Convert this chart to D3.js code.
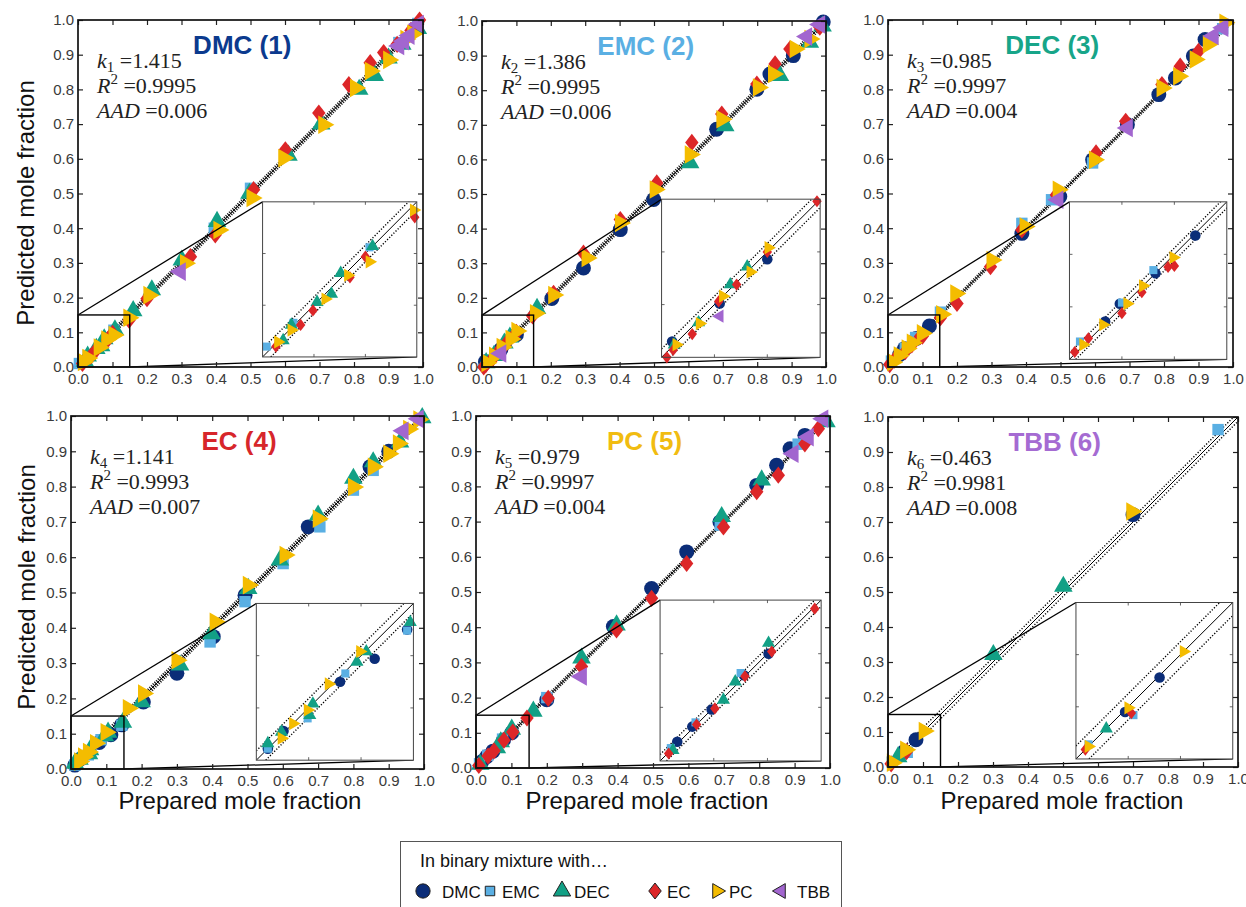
<!DOCTYPE html>
<html><head><meta charset="utf-8">
<script src="https://cdn.jsdelivr.net/npm/d3@7"></script>
<style>body{margin:0;background:#fff} svg{display:block}</style>
</head><body><svg id="c" width="1246" height="907"></svg>
<script>
// ---------------- DATA ----------------
const partners = ["DMC","EMC","DEC","EC","PC","TBB"];
const partnerColors = ["#0b2d78","#5aafe3","#12a085","#dc2628","#f4bc00","#a266cf"];
const panelTitles = ["DMC (1)","EMC (2)","DEC (3)","EC (4)","PC (5)","TBB (6)"];
const titleColors = ["#0b3a8e","#5aafe3","#17a589","#d7262b","#f1bc11","#a56bd2"];
const kValues = ["1.415","1.386","0.985","1.141","0.979","0.463"];
const r2Values = ["0.9995","0.9995","0.9997","0.9993","0.9997","0.9981"];
const aadValues = ["0.006","0.006","0.004","0.007","0.004","0.008"];
const bandWidths = [0.008,0.008,0.006,0.009,0.006,0.0125];
const tickValues = [0,0.1,0.2,0.3,0.4,0.5,0.6,0.7,0.8,0.9,1.0];
const tickLabels = ["0.0","0.1","0.2","0.3","0.4","0.5","0.6","0.7","0.8","0.9","1.0"];
const insetDomain = [0,0.15];

// [prepared, predicted] pairs, panel 1: DMC in binary mixture with ...
const p1_EMC = [[0.004,0.010],[0.03,0.033],[0.104,0.106],[0.395,0.40],[0.5,0.515],[0.93,0.935],[0.985,0.99]];
const p1_DEC = [[0.02,0.016],[0.028,0.031],[0.053,0.053],[0.067,0.061],[0.076,0.081],[0.107,0.107],[0.16,0.162],[0.214,0.222],[0.301,0.308],[0.403,0.419],[0.497,0.50],[0.61,0.61],[0.705,0.70],[0.815,0.80],[0.86,0.84],[0.9,0.89],[0.94,0.93],[0.985,0.975]];
const p1_EC  = [[0.013,0.010],[0.037,0.031],[0.049,0.045],[0.085,0.077],[0.1,0.097],[0.148,0.135],[0.2,0.197],[0.326,0.318],[0.398,0.381],[0.509,0.511],[0.601,0.626],[0.698,0.732],[0.785,0.814],[0.847,0.877],[0.886,0.906],[0.925,0.93],[0.965,0.97],[0.99,1.0]];
const p1_PC  = [[0.015,0.0145],[0.028,0.026],[0.061,0.056],[0.083,0.079],[0.104,0.092],[0.147,0.142],[0.205,0.207],[0.311,0.299],[0.408,0.395],[0.504,0.487],[0.596,0.602],[0.712,0.698],[0.804,0.804],[0.847,0.853],[0.9,0.885],[0.95,0.945],[0.97,0.96]];
const p1_TBB = [[0.297,0.275],[0.93,0.925],[0.944,0.939],[0.96,0.955],[0.987,0.988]];

// panel 2: EMC
const p2_DMC = [[0.01,0.015],[0.055,0.051],[0.1,0.093],[0.203,0.198],[0.295,0.286],[0.402,0.397],[0.499,0.484],[0.682,0.687],[0.799,0.803],[0.837,0.847],[0.905,0.9],[0.992,0.997]];
const p2_DEC = [[0.012,0.012],[0.035,0.033],[0.065,0.069],[0.081,0.086],[0.16,0.169],[0.605,0.59],[0.707,0.697],[0.866,0.842],[0.953,0.938],[0.99,0.985]];
const p2_EC  = [[0.005,0.0],[0.011,0.007],[0.029,0.022],[0.054,0.053],[0.071,0.069],[0.1,0.1],[0.147,0.148],[0.208,0.213],[0.295,0.329],[0.402,0.426],[0.508,0.532],[0.61,0.649],[0.697,0.731],[0.799,0.818],[0.852,0.876],[0.895,0.919],[0.982,0.982]];
const p2_PC  = [[0.014,0.012],[0.036,0.032],[0.058,0.058],[0.084,0.081],[0.101,0.104],[0.155,0.155],[0.208,0.208],[0.305,0.315],[0.402,0.416],[0.503,0.513],[0.605,0.614],[0.697,0.716],[0.803,0.808],[0.847,0.847],[0.91,0.919],[0.953,0.948]];
const p2_TBB = [[0.055,0.039],[0.944,0.955],[0.982,0.99]];

// panel 3: DEC
const p3_DMC = [[0.034,0.036],[0.048,0.053],[0.082,0.082],[0.12,0.118],[0.388,0.385],[0.498,0.491],[0.593,0.597],[0.694,0.698],[0.785,0.785],[0.833,0.833],[0.885,0.896],[0.919,0.944]];
const p3_EMC = [[0.01,0.017],[0.05,0.054],[0.08,0.085],[0.152,0.158],[0.388,0.414],[0.474,0.482],[0.593,0.588],[0.97,0.975]];
const p3_EC  = [[0.005,0.007],[0.018,0.02],[0.05,0.044],[0.069,0.064],[0.094,0.088],[0.1,0.089],[0.152,0.142],[0.2,0.183],[0.297,0.289],[0.388,0.395],[0.488,0.496],[0.603,0.617],[0.689,0.708],[0.794,0.814],[0.847,0.867],[0.9,0.91]];
const p3_PC  = [[0.013,0.014],[0.032,0.033],[0.055,0.053],[0.07,0.07],[0.099,0.097],[0.155,0.152],[0.196,0.212],[0.301,0.308],[0.397,0.405],[0.493,0.511],[0.598,0.597],[0.794,0.804],[0.842,0.838],[0.89,0.886],[0.928,0.93],[0.976,0.992]];
const p3_TBB = [[0.493,0.482],[0.694,0.689],[0.943,0.954],[0.971,0.978]];

// panel 4: EC
const p4_DMC = [[0.011,0.011],[0.026,0.028],[0.08,0.075],[0.113,0.097],[0.144,0.125],[0.205,0.19],[0.3,0.271],[0.403,0.375],[0.493,0.492],[0.672,0.686],[0.847,0.856],[0.9,0.9]];
const p4_EMC = [[0.011,0.011],[0.049,0.04],[0.085,0.083],[0.144,0.124],[0.394,0.36],[0.493,0.474],[0.601,0.582],[0.705,0.686],[0.8,0.79],[0.856,0.846]];
const p4_DEC = [[0.011,0.016],[0.024,0.027],[0.051,0.043],[0.054,0.054],[0.096,0.094],[0.105,0.104],[0.147,0.132],[0.2,0.19],[0.309,0.294],[0.398,0.383],[0.502,0.511],[0.592,0.592],[0.7,0.719],[0.8,0.823],[0.856,0.87],[0.932,0.926],[0.995,0.995]];
const p4_PC  = [[0.024,0.021],[0.035,0.035],[0.049,0.048],[0.069,0.073],[0.099,0.104],[0.162,0.172],[0.205,0.214],[0.3,0.308],[0.408,0.417],[0.502,0.521],[0.606,0.606],[0.7,0.709],[0.8,0.799],[0.856,0.856],[0.9,0.893],[0.927,0.922],[0.956,0.963],[0.985,0.99]];
const p4_TBB = [[0.941,0.958],[0.984,0.992]];

// panel 5: PC
const p5_DMC = [[0.016,0.018],[0.03,0.032],[0.048,0.048],[0.078,0.08],[0.101,0.1],[0.2,0.194],[0.388,0.402],[0.496,0.51],[0.595,0.614],[0.689,0.699],[0.793,0.803],[0.849,0.86],[0.887,0.907],[0.929,0.945]];
const p5_EMC = [[0.01,0.012],[0.033,0.036],[0.075,0.082],[0.2,0.2],[0.69,0.69],[0.91,0.92]];
const p5_DEC = [[0.012,0.01],[0.059,0.057],[0.07,0.074],[0.101,0.11],[0.162,0.161],[0.298,0.312],[0.397,0.406],[0.694,0.714],[0.807,0.818],[0.99,0.983]];
const p5_EC  = [[0.008,0.007],[0.034,0.034],[0.051,0.049],[0.079,0.079],[0.104,0.102],[0.144,0.142],[0.204,0.198],[0.298,0.288],[0.397,0.392],[0.496,0.482],[0.595,0.581],[0.699,0.685],[0.793,0.785],[0.854,0.832],[0.929,0.921],[0.967,0.964]];
const p5_TBB = [[0.298,0.26],[0.896,0.893],[0.939,0.94],[0.98,0.992]];

// panel 6: TBB
const p6_DMC = [[0.047,0.045],[0.08,0.078],[0.7,0.721]];
const p6_EMC = [[0.012,0.014],[0.055,0.042],[0.943,0.964]];
const p6_DEC = [[0.029,0.029],[0.301,0.321],[0.501,0.516]];
const p6_EC  = [[0.009,0.009],[0.053,0.044]];
const p6_PC  = [[0.012,0.012],[0.05,0.049],[0.103,0.103],[0.696,0.73]];

// table built from the arrays above (index = partner)
const panelSeries = [
  [null,   p1_EMC, p1_DEC, p1_EC, p1_PC, p1_TBB],
  [p2_DMC, null,   p2_DEC, p2_EC, p2_PC, p2_TBB],
  [p3_DMC, p3_EMC, null,   p3_EC, p3_PC, p3_TBB],
  [p4_DMC, p4_EMC, p4_DEC, null,  p4_PC, p4_TBB],
  [p5_DMC, p5_EMC, p5_DEC, p5_EC, null,  p5_TBB],
  [p6_DMC, p6_EMC, p6_DEC, p6_EC, p6_PC, null]
];

// ---------------- LAYOUT ----------------
const layout = [
  {x0:78,  x1:423,  y0:367, y1:20,  inset:[0.535,0.982,0.029,0.476], hatch:true},
  {x0:482, x1:826,  y0:367, y1:21,  inset:[0.522,0.983,0.028,0.485], hatch:true},
  {x0:888, x1:1233, y0:367, y1:20,  inset:[0.526,0.982,0.022,0.476], hatch:true},
  {x0:71,  x1:424,  y0:769, y1:416, inset:[0.525,0.97,0.025,0.469], hatch:true},
  {x0:476, x1:830,  y0:768, y1:416, inset:[0.52,0.975,0.02,0.477], hatch:true},
  {x0:888, x1:1238, y0:767, y1:417, inset:[0.537,0.985,0.023,0.47], hatch:false}
];
const symDiamond = {
  draw(ctx, size) {
    const h = Math.sqrt(size / 1.56), w = 0.78 * h;
    ctx.moveTo(0, -h); ctx.lineTo(w, 0); ctx.lineTo(0, h); ctx.lineTo(-w, 0); ctx.closePath();
  }
};
const symTypes = [d3.symbolCircle, d3.symbolSquare, d3.symbolTriangle, symDiamond, d3.symbolTriangle, d3.symbolTriangle];
const symRot = [0,0,0,0,90,-90];
const symSize = [175,130,150,115,150,150];
const legSize = [160,90,130,100,95,95];

const svg = d3.select("#c");
const defs = svg.append("defs");
const sansFont = "'Liberation Sans', Arial, Helvetica, sans-serif";
const serifFont = "'Liberation Serif', 'Times New Roman', serif";

function drawSymbol(g, j, cx, cy, size, stroke) {
  g.append("path")
    .attr("d", d3.symbol().type(symTypes[j]).size(size)())
    .attr("transform", `translate(${cx},${cy}) rotate(${symRot[j]})`)
    .attr("fill", partnerColors[j])
    .attr("stroke", stroke || "none")
    .attr("stroke-width", stroke ? 1 : 0);
}

function diagLines(g, xs, ys, band, hatch) {
  g.append("line")
    .attr("x1", xs(0)).attr("y1", ys(0)).attr("x2", xs(1)).attr("y2", ys(1))
    .attr("stroke", "#000").attr("stroke-width", 1);
  if (hatch) {
    const perp = band * (xs(1) - xs(0)) / Math.SQRT2;
    g.append("line")
      .attr("x1", xs(0)).attr("y1", ys(0)).attr("x2", xs(1)).attr("y2", ys(1))
      .attr("stroke", "#111").attr("stroke-width", 2 * perp + 1.2)
      .attr("stroke-dasharray", "1.1,1.3");
  } else {
    [[[0,band],[1-band,1]], [[band,0],[1,1-band]]].forEach(p => {
      g.append("line")
        .attr("x1", xs(p[0][0])).attr("y1", ys(p[0][1]))
        .attr("x2", xs(p[1][0])).attr("y2", ys(p[1][1]))
        .attr("stroke", "#000").attr("stroke-width", 1.4)
        .attr("stroke-dasharray", "1.2,1.8");
    });
  }
}

layout.forEach((L, i) => {
  const xs = d3.scaleLinear().domain([0,1]).range([L.x0, L.x1]);
  const ys = d3.scaleLinear().domain([0,1]).range([L.y0, L.y1]);
  const g = svg.append("g");
  const band = bandWidths[i];

  // main diagonal
  diagLines(g, xs, ys, band, L.hatch);

  // markers
  panelSeries[i].forEach((arr, j) => {
    if (!arr) return;
    arr.forEach(d => drawSymbol(g, j, xs(d[0]), ys(d[1]), symSize[j]));
  });

  // zoom box and connectors
  const ix0 = xs(L.inset[0]), ix1 = xs(L.inset[1]);
  const iy0 = ys(L.inset[2]), iy1 = ys(L.inset[3]);
  g.append("rect").attr("x", xs(0)).attr("y", ys(insetDomain[1]))
    .attr("width", xs(insetDomain[1]) - xs(0)).attr("height", ys(0) - ys(insetDomain[1]))
    .attr("fill", "none").attr("stroke", "#000").attr("stroke-width", 1.4);
  g.append("line").attr("x1", xs(0)).attr("y1", ys(insetDomain[1]))
    .attr("x2", ix0).attr("y2", iy1).attr("stroke", "#000").attr("stroke-width", 1.3);
  g.append("line").attr("x1", xs(insetDomain[1])).attr("y1", ys(0))
    .attr("x2", ix1).attr("y2", iy0).attr("stroke", "#000").attr("stroke-width", 1.3);

  // inset
  const xi = d3.scaleLinear().domain(insetDomain).range([ix0, ix1]);
  const yi = d3.scaleLinear().domain(insetDomain).range([iy0, iy1]);
  g.append("rect").attr("x", ix0).attr("y", iy1).attr("width", ix1-ix0).attr("height", iy0-iy1)
    .attr("fill", "#fff");
  const clipId = "clip" + i;
  defs.append("clipPath").attr("id", clipId).append("rect")
    .attr("x", ix0).attr("y", iy1).attr("width", ix1-ix0).attr("height", iy0-iy1);
  const gi = g.append("g");
  const gl = gi.append("g").attr("clip-path", `url(#${clipId})`);
  const xiL = d3.scaleLinear().domain([0,1]).range([xi(0), xi(1)]);
  const yiL = d3.scaleLinear().domain([0,1]).range([yi(0), yi(1)]);
  diagLines(gl, xiL, yiL, band, false);
  panelSeries[i].forEach((arr, j) => {
    if (!arr) return;
    arr.filter(d => d[0] <= insetDomain[1] && d[1] <= insetDomain[1])
      .forEach(d => drawSymbol(gi, j, xi(d[0]), yi(d[1]), symSize[j]*0.5));
  });
  // inset ticks
  [0.05,0.1].forEach(t => {
    gi.append("line").attr("x1", ix0).attr("x2", ix0+3).attr("y1", yi(t)).attr("y2", yi(t)).attr("stroke","#666");
    gi.append("line").attr("x1", ix1).attr("x2", ix1-3).attr("y1", yi(t)).attr("y2", yi(t)).attr("stroke","#666");
    gi.append("line").attr("y1", iy0).attr("y2", iy0-3).attr("x1", xi(t)).attr("x2", xi(t)).attr("stroke","#666");
    gi.append("line").attr("y1", iy1).attr("y2", iy1+3).attr("x1", xi(t)).attr("x2", xi(t)).attr("stroke","#666");
  });
  gi.append("rect").attr("x", ix0).attr("y", iy1).attr("width", ix1-ix0).attr("height", iy0-iy1)
    .attr("fill", "none").attr("stroke", "#444").attr("stroke-width", 1);

  // axes
  const fmt = (d, k) => tickLabels[k];
  const ax = g.append("g").attr("transform", `translate(0,${L.y0})`)
    .call(d3.axisBottom(xs).tickValues(tickValues).tickSize(-5).tickPadding(6).tickFormat(fmt));
  const ay = g.append("g").attr("transform", `translate(${L.x0},0)`)
    .call(d3.axisLeft(ys).tickValues(tickValues).tickSize(-5).tickPadding(4).tickFormat(fmt));
  const at = g.append("g").attr("transform", `translate(0,${L.y1})`)
    .call(d3.axisTop(xs).tickValues(tickValues).tickSize(-5).tickFormat(""));
  const ar = g.append("g").attr("transform", `translate(${L.x1},0)`)
    .call(d3.axisRight(ys).tickValues(tickValues).tickSize(-5).tickFormat(""));
  [ax, ay, at, ar].forEach(a => {
    a.select(".domain").remove();
    a.selectAll(".tick line").attr("stroke", "#222").attr("stroke-width", 1.2);
    a.selectAll(".tick text").attr("font-family", sansFont).attr("font-size", 15).attr("fill", "#3a3a3a");
  });
  g.append("rect").attr("x", L.x0).attr("y", L.y1).attr("width", L.x1-L.x0).attr("height", L.y0-L.y1)
    .attr("fill", "none").attr("stroke", "#111").attr("stroke-width", 1.7);

  // title
  g.append("text").attr("x", L.x0 + 0.476*(L.x1-L.x0)).attr("y", L.y1 + 34)
    .attr("text-anchor", "middle").attr("font-family", sansFont).attr("font-weight", "bold")
    .attr("font-size", 26).attr("fill", titleColors[i]).text(panelTitles[i]);

  // stats
  const sx = L.x0 + 19;
  const st = g.append("g").attr("font-family", serifFont).attr("font-size", 22).attr("fill", "#222");
  const t1 = st.append("text").attr("x", sx).attr("y", L.y1 + 48);
  t1.append("tspan").attr("font-style", "italic").text("k");
  t1.append("tspan").attr("font-size", 15).attr("dy", 4).text(String(i+1));
  t1.append("tspan").attr("dy", -4).text(" =" + kValues[i]);
  const t2 = st.append("text").attr("x", sx).attr("y", L.y1 + 73);
  t2.append("tspan").attr("font-style", "italic").text("R");
  t2.append("tspan").attr("font-size", 15).attr("dy", -9).text("2");
  t2.append("tspan").attr("dy", 9).text(" =" + r2Values[i]);
  const t3 = st.append("text").attr("x", sx).attr("y", L.y1 + 98);
  t3.append("tspan").attr("font-style", "italic").text("AAD");
  t3.append("tspan").text(" =" + aadValues[i]);
});

// axis titles
[[34,203],[35,587]].forEach(p => {
  svg.append("text").attr("transform", `translate(${p[0]},${p[1]}) rotate(-90)`)
    .attr("text-anchor", "middle").attr("font-family", sansFont).attr("font-size", 24)
    .attr("fill", "#111").text("Predicted mole fraction");
});
[[240,809],[647,809],[1062,809]].forEach(p => {
  svg.append("text").attr("x", p[0]).attr("y", p[1])
    .attr("text-anchor", "middle").attr("font-family", sansFont).attr("font-size", 24)
    .attr("fill", "#111").text("Prepared mole fraction");
});

// legend
const lg = svg.append("g");
lg.append("rect").attr("x", 400.5).attr("y", 841.5).attr("width", 441).attr("height", 90)
  .attr("fill", "#fff").attr("stroke", "#555").attr("stroke-width", 1);
lg.append("text").attr("x", 420).attr("y", 867).attr("font-family", sansFont).attr("font-size", 18)
  .attr("fill", "#111").text("In binary mixture with\u2026");
const legX = [423, 490, 562, 655, 717, 781];
const legTX = [442, 502, 574, 667, 729, 797];
partners.forEach((p, j) => {
  drawSymbol(lg, j, legX[j], 891, legSize[j], "#222");
  lg.append("text").attr("x", legTX[j]).attr("y", 898).attr("font-family", sansFont).attr("font-size", 17)
    .attr("fill", "#111").text(p);
});
</script>
</body></html>
